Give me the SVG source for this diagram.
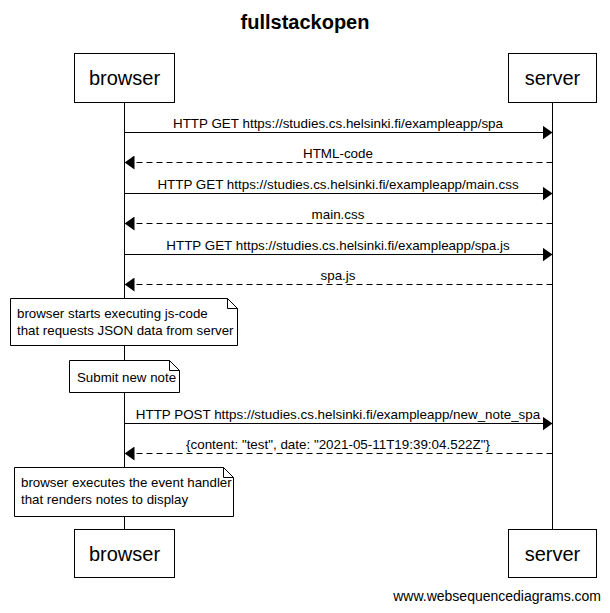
<svg xmlns="http://www.w3.org/2000/svg" width="610" height="613" viewBox="0 0 610 613">
<style>
text{font-family:"Liberation Sans",Arial,sans-serif;fill:#000}
.title{font-size:20px;font-weight:bold;text-anchor:middle}
.actor rect{fill:#fff;stroke:#000;stroke-width:1}
.actor text{font-size:20px;text-anchor:middle}
.life{stroke:#000;stroke-width:1}
.msg{stroke:#000;stroke-width:1;fill:none}
.dash{stroke-dasharray:6,4}
.lbl{font-size:13.4px;text-anchor:middle}
.note path{fill:#fff;stroke:#000;stroke-width:1}
.note text{font-size:13.3px}
.foot{font-size:14px;text-anchor:end}
</style>
<defs>
<marker id="ah" viewBox="0 0 10 14" refX="10" refY="7" markerWidth="10" markerHeight="14" markerUnits="userSpaceOnUse" orient="auto">
<path d="M0,0 L10,7 L0,14 Z" fill="#000"/>
</marker>
</defs>
<rect width="610" height="613" fill="#fff"/>
<text class="title" x="305" y="29">fullstackopen</text>
<g id="lifelines">
<line class="life" x1="124.5" y1="102" x2="124.5" y2="529"/>
<line class="life" x1="552.5" y1="102" x2="552.5" y2="529"/>
</g>
<g id="browser-top" class="actor"><rect x="74.5" y="53.5" width="100" height="49"/><text x="124.5" y="85">browser</text></g>
<g id="server-top" class="actor"><rect x="508.5" y="53.5" width="88" height="49"/><text x="552.5" y="85">server</text></g>
<g id="browser-bottom" class="actor"><rect x="74.5" y="529.5" width="100" height="48"/><text x="124.5" y="561">browser</text></g>
<g id="server-bottom" class="actor"><rect x="508.5" y="529.5" width="88" height="48"/><text x="552.5" y="561">server</text></g>
<g id="connectors">
<line class="msg" x1="124.5" y1="132.5" x2="552.5" y2="132.5" marker-end="url(#ah)"/>
<text class="lbl" x="338" y="128">HTTP GET https://studies.cs.helsinki.fi/exampleapp/spa</text>
<line class="msg dash" x1="552.5" y1="162.5" x2="124.5" y2="162.5" marker-end="url(#ah)"/>
<text class="lbl" x="338" y="158">HTML-code</text>
<line class="msg" x1="124.5" y1="193.5" x2="552.5" y2="193.5" marker-end="url(#ah)"/>
<text class="lbl" x="338" y="189">HTTP GET https://studies.cs.helsinki.fi/exampleapp/main.css</text>
<line class="msg dash" x1="552.5" y1="223.5" x2="124.5" y2="223.5" marker-end="url(#ah)"/>
<text class="lbl" x="338" y="219">main.css</text>
<line class="msg" x1="124.5" y1="254.5" x2="552.5" y2="254.5" marker-end="url(#ah)"/>
<text class="lbl" x="338" y="250">HTTP GET https://studies.cs.helsinki.fi/exampleapp/spa.js</text>
<line class="msg dash" x1="552.5" y1="284.5" x2="124.5" y2="284.5" marker-end="url(#ah)"/>
<text class="lbl" x="338" y="280">spa.js</text>
<line class="msg" x1="124.5" y1="423.5" x2="552.5" y2="423.5" marker-end="url(#ah)"/>
<text class="lbl" x="338" y="419">HTTP POST https://studies.cs.helsinki.fi/exampleapp/new_note_spa</text>
<line class="msg dash" x1="552.5" y1="453.5" x2="124.5" y2="453.5" marker-end="url(#ah)"/>
<text class="lbl" x="338" y="449">{content: "test", date: "2021-05-11T19:39:04.522Z"}</text>
</g>
<g id="note1" class="note">
<path d="M10.5,298.5 H227.5 L237.5,308.5 V345.5 H10.5 Z M227.5,298.5 V308.5 H237.5"/>
<text x="17" y="318">browser starts executing js-code</text>
<text x="17" y="335">that requests JSON data from server</text>
</g>
<g id="note2" class="note">
<path d="M69.5,360.5 H169.5 L179.5,370.5 V392.5 H69.5 Z M169.5,360.5 V370.5 H179.5"/>
<text x="77" y="382">Submit new note</text>
</g>
<g id="note3" class="note">
<path d="M14.5,467.5 H223.5 L233.5,477.5 V516.5 H14.5 Z M223.5,467.5 V477.5 H233.5"/>
<text x="21" y="487">browser executes the event handler</text>
<text x="21" y="504">that renders notes to display</text>
</g>
<text class="foot" x="601" y="601">www.websequencediagrams.com</text>
</svg>
